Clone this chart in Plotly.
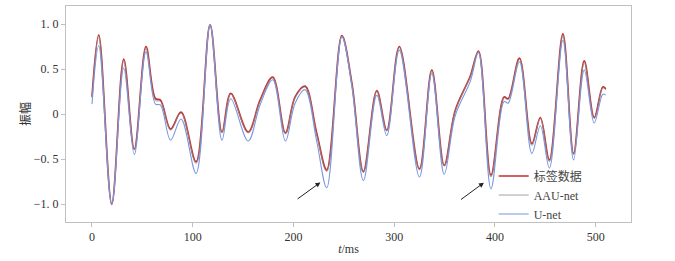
import plotly.graph_objects as go

# time samples (ms)
t_ms = [0, 6.7, 19.6, 31.5, 42, 53.6, 63, 68, 78, 88.4, 103.3, 117.2, 129, 137.7,
        155, 166.8, 179.4, 192, 201.6, 211.5, 223, 233, 248, 258, 269.4, 282.7,
        292.6, 305, 325, 337.3, 349.6, 360.5, 375.4, 383.6, 396, 409, 413, 424.3,
        436.6, 445, 454, 467.4, 478, 488.6, 498.5, 507, 510]

label_vals = [0.19, 0.88, -1.00, 0.61, -0.39, 0.75, 0.17, 0.155, -0.167, 0.02, -0.53,
              0.99, -0.20, 0.23, -0.20, 0.155, 0.41, -0.21, 0.19, 0.31, -0.21, -0.62,
              0.87, 0.34, -0.64, 0.26, -0.18, 0.75, -0.61, 0.49, -0.57, 0.04, 0.42,
              0.70, -0.68, 0.19, 0.17, 0.62, -0.33, -0.04, -0.51, 0.89, -0.44, 0.59,
              -0.04, 0.30, 0.28]

aau_vals = [0.18, 0.86, -1.00, 0.59, -0.40, 0.73, 0.15, 0.14, -0.18, 0.01, -0.55,
            0.99, -0.21, 0.22, -0.21, 0.14, 0.40, -0.22, 0.18, 0.30, -0.23, -0.64,
            0.86, 0.33, -0.65, 0.25, -0.19, 0.74, -0.62, 0.48, -0.58, 0.03, 0.41,
            0.69, -0.70, 0.18, 0.16, 0.61, -0.35, -0.05, -0.53, 0.87, -0.45, 0.57,
            -0.05, 0.29, 0.27]

unet_vals = [0.11, 0.76, -1.01, 0.51, -0.45, 0.69, 0.11, 0.10, -0.29, -0.055, -0.66,
             0.99, -0.29, 0.17, -0.30, 0.10, 0.38, -0.30, 0.12, 0.27, -0.30, -0.82,
             0.86, 0.30, -0.74, 0.21, -0.24, 0.71, -0.70, 0.45, -0.67, -0.02, 0.36,
             0.68, -0.83, 0.14, 0.12, 0.58, -0.44, -0.13, -0.60, 0.82, -0.51, 0.49,
             -0.10, 0.22, 0.21]

y_tick_vals = [-1.0, -0.5, 0, 0.5, 1.0]
y_tick_text = ["\u22121.\u00a00", "\u22120.\u00a05", "0", "0.\u00a05", "1.\u00a00"]
x_tick_vals = [0, 100, 200, 300, 400, 500]

FONT = "Liberation Serif, Noto Sans CJK SC"

fig = go.Figure()
fig.add_trace(go.Scatter(x=t_ms, y=label_vals, mode="lines", name="标签数据",
                         line=dict(color="#c62e2e", width=1.7, shape="spline", smoothing=1.0)))
fig.add_trace(go.Scatter(x=t_ms, y=aau_vals, mode="lines", name="AAU-net",
                         line=dict(color="#8c8c8c", width=0.8, shape="spline", smoothing=1.0)))
fig.add_trace(go.Scatter(x=t_ms, y=unet_vals, mode="lines", name="U-net",
                         line=dict(color="#7b96e0", width=1.1, shape="spline", smoothing=1.0)))

arrow_style = dict(showarrow=True, arrowhead=2, arrowsize=1, arrowwidth=1,
                   arrowcolor="#222222", xref="x", yref="y", axref="x", ayref="y", text="")
fig.add_annotation(x=226.7, y=-0.76, ax=202.6, ay=-0.955, **arrow_style)
fig.add_annotation(x=389, y=-0.763, ax=364.7, ay=-0.963, **arrow_style)

fig.update_layout(
    width=675, height=261,
    margin=dict(l=66, r=44, t=6, b=39),
    paper_bgcolor="white", plot_bgcolor="white",
    font=dict(family=FONT, size=12, color="#333333"),
    showlegend=True,
    legend=dict(x=0.757, y=0.28, xanchor="left", yanchor="top",
                bgcolor="rgba(0,0,0,0)", font=dict(family=FONT, size=12, color="#444444"),
                tracegroupgap=0),
)
fig.update_xaxes(range=[-25.8, 535], tickvals=x_tick_vals, showgrid=False, zeroline=False,
                 showline=True, linecolor="#c0c0c0", linewidth=1, mirror=True,
                 ticks="outside", ticklen=4, tickcolor="#c0c0c0",
                 tickfont=dict(family=FONT, size=12, color="#333333"),
                 title=dict(text="<i>t</i>/ms", standoff=1,
                            font=dict(family=FONT, size=12, color="#333333")))
fig.update_yaxes(range=[-1.2, 1.2], tickvals=y_tick_vals, ticktext=y_tick_text,
                 showgrid=False, zeroline=False,
                 showline=True, linecolor="#c0c0c0", linewidth=1, mirror=True,
                 ticks="outside", ticklen=4, tickcolor="#c0c0c0",
                 tickfont=dict(family=FONT, size=12, color="#333333"),
                 title=dict(text="振幅", standoff=0,
                            font=dict(family=FONT, size=12, color="#333333")))

fig.write_html("out.html", config={"displayModeBar": False},
               post_script="document.body.style.margin='0';")
